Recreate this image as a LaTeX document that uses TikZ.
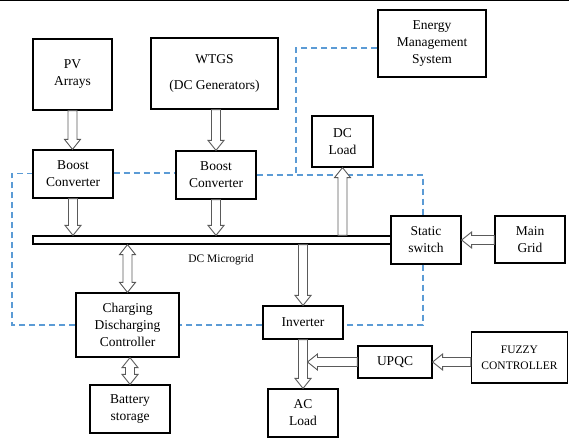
\documentclass[tikz,border=0pt]{standalone}
\usepackage{fontspec}
\setmainfont{Liberation Serif}
\usetikzlibrary{calc}
\definecolor{dashblue}{RGB}{91,155,213}
\definecolor{arrgray}{RGB}{90,90,90}
\tikzset{
  box/.style={draw=black, line width=1.2pt, fill=white, rectangle, inner sep=1pt, align=center,
    font=\fontsize{13.5}{17}\selectfont},
  arw/.style={draw=arrgray, line width=0.9pt, fill=white, line join=miter},
  ctrl/.style={draw=dashblue, line width=1.2pt, dash pattern=on 6pt off 4pt},
}
\newcommand\barrow[2]{%
  \path (#1) coordinate (s) (#2) coordinate (t);
  \path ($(t)!10pt!(s)$) coordinate (h);
  \draw[arw] ($(s)!4.5pt!90:(t)$) -- ($(h)!4.5pt!90:(t)$) -- ($(h)!8pt!90:(t)$) -- (t)
    -- ($(h)!8pt!-90:(t)$) -- ($(h)!4.5pt!-90:(t)$) -- ($(s)!4.5pt!-90:(t)$) -- cycle;}
\newcommand\dbarrow[2]{%
  \path (#1) coordinate (s) (#2) coordinate (t);
  \path ($(t)!10pt!(s)$) coordinate (h) ($(s)!10pt!(t)$) coordinate (g);
  \draw[arw] ($(g)!4.5pt!90:(t)$) -- ($(h)!4.5pt!90:(t)$) -- ($(h)!8pt!90:(t)$) -- (t)
    -- ($(h)!8pt!-90:(t)$) -- ($(h)!4.5pt!-90:(t)$) -- ($(g)!4.5pt!-90:(t)$)
    -- ($(g)!8pt!-90:(t)$) -- (s) -- ($(g)!8pt!90:(t)$) -- cycle;}
\begin{document}
\begin{tikzpicture}[x=1pt,y=-1pt]
\useasboundingbox (0,0) rectangle (569,438);
\draw[line width=0.8pt] (0,0.5) coordinate (tl) -- (569,0.5) coordinate (tr);
% boxes
\node[box, minimum width=79pt, minimum height=71pt] (pv) at (72.5,74.5) {PV\\Arrays};
\node[box, minimum width=127pt, minimum height=71pt] (wtgs) at (214.5,73.5) {WTGS\\[9pt](DC Generators)};
\node[box, minimum width=80pt, minimum height=48pt] (b1) at (73,174) {Boost\\Converter};
\node[box, minimum width=80pt, minimum height=48pt] (b2) at (216,175) {Boost\\Converter};
\node[box, minimum width=108pt, minimum height=67pt] (ems) at (432,43.5) {Energy\\Management\\System};
\node[box, minimum width=61pt, minimum height=51pt] (dcl) at (342.5,141.5) {DC\\Load};
\node[draw=black, line width=1.2pt, fill=white, minimum width=359pt, minimum height=8pt, inner sep=0pt] (bus) at (212.5,240) {};
\node[box, minimum width=70pt, minimum height=48pt] (ss) at (426,240) {Static\\switch};
\node[box, minimum width=70pt, minimum height=47pt] (mg) at (530,239.5) {Main\\Grid};
\node[box, minimum width=80pt, minimum height=33pt] (inv) at (303,322.5) {Inverter};
\node[box, minimum width=74pt, minimum height=32pt] (upqc) at (395,362) {UPQC};
\node[box, minimum width=96pt, minimum height=51pt, font=\fontsize{11.5}{16}\selectfont] (fz) at (519.5,357.5) {FUZZY\\CONTROLLER};
\node[box, minimum width=70pt, minimum height=48pt] (acl) at (303,413) {AC\\Load};
\node[box, minimum width=103pt, minimum height=64pt] (cdc) at (127.5,325) {Charging\\Discharging\\Controller};
\node[box, minimum width=80pt, minimum height=48pt] (bat) at (130,409) {Battery\\storage};
\node[font=\fontsize{11.5}{14}\selectfont, inner sep=0pt] (lbl) at (221,260) {DC Microgrid};
% control (dashed) lines
\draw[ctrl] ([yshift=-4.5pt]ems.west) -| (296,173);
\draw[ctrl] (b2.east) -| ([xshift=-3pt]ss.north);
\draw[ctrl] ([xshift=-3pt]ss.south) |- ([yshift=-2.5pt]inv.east);
\draw[ctrl] ([yshift=-2.5pt]inv.west) -- (cdc.east |- {(0,325)});
\draw[ctrl] (cdc.west) -| (12,173.5) -- (b1.west |- {(0,173.5)});
\draw[ctrl] ([yshift=1pt]b1.east) -- (b2.west |- {(0,173)});
% power arrows
\barrow{pv.south}{pv.south |- b1.north}
\barrow{b2.north |- wtgs.south}{b2.north}
\barrow{b1.south}{b1.south |- bus.north}
\barrow{b2.south}{b2.south |- bus.north}
\dbarrow{cdc.north |- bus.south}{cdc.north}
\dbarrow{bat.north |- cdc.south}{bat.north}
\barrow{inv.north |- bus.south}{inv.north}
\barrow{dcl.south |- bus.north}{dcl.south}
\barrow{mg.west |- ss.east}{ss.east}
\barrow{inv.south}{acl.north}
\barrow{fz.west |- upqc.east}{upqc.east}
\coordinate (j) at ([xshift=4.5pt]inv.south |- upqc.west);
\barrow{upqc.west}{j}
\end{tikzpicture}
\end{document}
